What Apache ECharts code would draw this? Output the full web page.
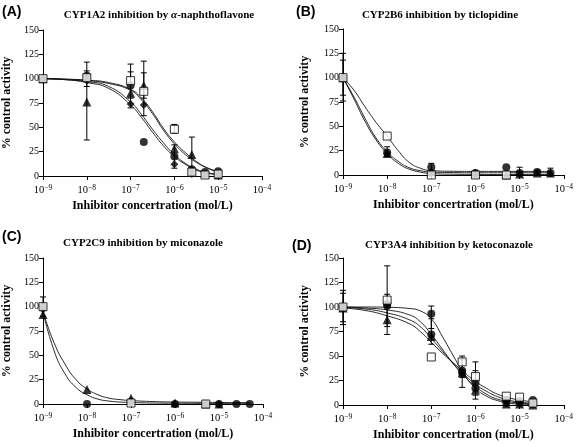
<!DOCTYPE html>
<html><head><meta charset="utf-8">
<script src="https://cdn.jsdelivr.net/npm/echarts@6/dist/echarts.min.js"></script>
<style>html,body{margin:0;padding:0;background:#fff}#c{width:576px;height:443px}</style>
</head><body><div id="c"></div><script>
// ---------- data ----------
const xTickExponents = [-9, -8, -7, -6, -5, -4];
const yTicks = [0, 25, 50, 75, 100, 125, 150];
const panelLetters = ['(A)', '(B)', '(C)', '(D)'];
const titleParts = [
  ['CYP1A2 inhibition by ', 'α', '-naphthoflavone'],
  ['CYP2B6 inhibition by ticlopidine', '', ''],
  ['CYP2C9 inhibition by miconazole', '', ''],
  ['CYP3A4 inhibition by ketoconazole', '', '']
];
const xAxisName = 'Inhibitor concertration (mol/L)';
const yAxisName = '% control activity';

// Panel A
const A_circle   = [[1e-9,100],[1e-8,103],[1e-7,93],[2e-7,35],[1e-6,20],[2.5e-6,7],[5e-6,4],[1e-5,5]];
const A_triangle = [[1e-9,100],[1e-8,76],[1e-7,85],[2e-7,93],[1e-6,28],[2.5e-6,22],[5e-6,2],[1e-5,1]];
const A_diamond  = [[1e-9,99],[1e-8,98],[1e-7,74],[2e-7,73],[1e-6,12],[2.5e-6,2],[5e-6,2],[1e-5,1]];
const A_square   = [[1e-9,100],[1e-8,101],[1e-7,98],[2e-7,87],[1e-6,48],[2.5e-6,4],[5e-6,1],[1e-5,2]];
const A_err = [[1e-8,37,117],[1e-8,92,108],[1e-7,70,115],[1e-7,80,107],[2e-7,62,118],[2e-7,80,106],[1e-6,8,32],[1e-6,44,53],[2.5e-6,0,40]];
const A_fitLogX = [-9,-8.5,-8,-7.5,-7,-6.75,-6.5,-6.25,-6,-5.75,-5.5,-5.25,-5];
const A_fit1 = [100,99,97,92,76,63,48,34,22,13,7,3.5,1.5];
const A_fit2 = [100,99,96,90,73,60,45,31,20,12,6,3,1];
const A_fit3 = [100,99.5,98.5,96,89,80,66,49,35,24,15,8.5,4.5];
const A_fit4 = [100,99.5,98,95,88,78,64,47,33,22,14,8,4];

// Panel B
const B_circle   = [[1e-9,100],[1e-8,23],[1e-7,8],[1e-6,2],[5e-6,8],[1e-5,2],[2.5e-5,3],[5e-5,2]];
const B_triangle = [[1e-9,100],[1e-8,22],[1e-7,3],[1e-6,1],[5e-6,0],[1e-5,1],[2.5e-5,2],[5e-5,2]];
const B_diamond  = [[1e-9,100],[1e-8,22],[1e-7,3],[1e-6,2]];
const B_square   = [[1e-9,100],[1e-8,40],[1e-7,0],[1e-6,0],[5e-6,0]];
const B_err = [[1e-9,76,125],[1e-9,82,118],[1e-8,19,29],[1e-7,3,12],[1e-5,0,8],[2.5e-5,1,5],[5e-5,0,7]];
const B_fitLogX = [-9,-8.75,-8.5,-8.25,-8,-7.75,-7.5,-7.25,-7,-6.5,-6,-5.5,-5,-4.6,-4.3];
const B_fit1 = [100,87,70,54,40,25,13,7,4.5,3.8,3.7,3.7,3.7,3.7,3.7];
const B_fit2 = [100,80,58,38,24,14,7.5,4.5,3,2.5,2.3,2.3,2.3,2.3,2.3];
const B_fit3 = [100,78,55,36,22,12,6,3,1.5,0.8,0.6,0.5,0.5,0.5,0.5];

// Panel C
const C_circle   = [[1e-9,100],[1e-8,0],[1e-7,2],[1e-6,0],[5e-6,0],[1e-5,0],[2.5e-5,0],[5e-5,0]];
const C_triangle = [[1e-9,92],[1e-8,15],[1e-7,6],[1e-6,1],[5e-6,0],[1e-5,0]];
const C_diamond  = [[1e-9,97],[1e-7,3],[1e-6,0],[5e-6,0]];
const C_square   = [[1e-9,100],[1e-7,1],[5e-6,0]];
const C_err = [[1e-9,90,110]];
const C_fitLogX = [-9,-8.75,-8.5,-8.25,-8,-7.75,-7.5,-7.25,-7,-6.5,-6,-5.5,-5,-4.6,-4.3];
const C_fit1 = [95,63,41,25,15.5,9.5,6,4.5,3.5,2.5,2,1.8,1.6,1.5,1.5];
const C_fit2 = [95,55,31,17,9.5,5,3,2,1.5,1,0.8,0.7,0.6,0.6,0.6];

// Panel D
const D_circle   = [[1e-9,100],[1e-8,103],[1e-7,93],[5e-7,35],[1e-6,23],[5e-6,5],[1e-5,4],[2e-5,5]];
const D_circle2  = [[1e-9,100],[1e-8,101],[1e-7,72],[5e-7,33],[1e-6,17],[5e-6,2],[1e-5,2],[2e-5,1]];
const D_triangle = [[1e-9,99],[1e-8,87],[1e-7,70],[5e-7,33],[1e-6,15],[5e-6,1],[1e-5,1],[2e-5,0]];
const D_square   = [[1e-9,100],[1e-8,107],[1e-7,49],[5e-7,44],[1e-6,29],[5e-6,9],[1e-5,8],[2e-5,2]];
const D_err = [[1e-9,82,117],[1e-9,85,114],[1e-8,72,142],[1e-8,80,113],[1e-7,62,101],[1e-7,78,88],[5e-7,18,50],[5e-7,28,47],[1e-6,6,44],[1e-6,10,35]];
const D_fitLogX = [-9,-8.5,-8,-7.5,-7.25,-7,-6.75,-6.5,-6.25,-6,-5.75,-5.5,-5.25,-5,-4.7];
const D_fit1 = [100,100,99.7,98.5,96,88,70,50,31,17,9,4.5,2,1,0.5];
const D_fit2 = [100,99,97,92,85,72,57,42,29,19,11,6,3.5,2,1];
const D_fit3 = [99.5,98,94,87,80,68,55,42,31,21,14,8.5,5,3,1.8];
const D_fit4 = [99,96.5,91,83,75,64,53,43,33,24,17,11,7.5,5,3.4];

// ---------- layout & styles ----------
const layout = [
  {grid:{left:42, top:30, width:220, height:146}, letter:[2,12], title:[159,15], yGap:30},
  {grid:{left:343, top:29, width:221, height:146}, letter:[296,12], title:[440,15], yGap:32},
  {grid:{left:43, top:258, width:220, height:146}, letter:[2,237], title:[143,243], yGap:30},
  {grid:{left:343, top:258, width:221, height:147}, letter:[292,246], title:[449,245], yGap:32}
];
const panels = [
  {markers:[['circle',A_circle],['triangle',A_triangle],['diamond',A_diamond],['square',A_square]], err:A_err, fitX:A_fitLogX, fits:[A_fit1,A_fit2,A_fit3,A_fit4]},
  {markers:[['circle',B_circle],['triangle',B_triangle],['diamond',B_diamond],['square',B_square]], err:B_err, fitX:B_fitLogX, fits:[B_fit1,B_fit2,B_fit3]},
  {markers:[['circle',C_circle],['triangle',C_triangle],['diamond',C_diamond],['square',C_square]], err:C_err, fitX:C_fitLogX, fits:[C_fit1,C_fit2]},
  {markers:[['circle',D_circle],['circle',D_circle2],['triangle',D_triangle],['square',D_square]], err:D_err, fitX:D_fitLogX, fits:[D_fit1,D_fit2,D_fit3,D_fit4]}
];
const SERIF = '"Liberation Serif","Times New Roman",serif';
const SANS = '"Liberation Sans",Arial,sans-serif';
const markerStyle = {
  circle:{symbol:'circle', symbolSize:8, itemStyle:{color:'#000'}},
  triangle:{symbol:'triangle', symbolSize:9, itemStyle:{color:'#000'}},
  diamond:{symbol:'diamond', symbolSize:8, itemStyle:{color:'#000'}},
  square:{symbol:'rect', symbolSize:8, itemStyle:{color:'#fff', borderColor:'#000', borderWidth:1}}
};

const grids = [], xAxes = [], yAxes = [], series = [], graphics = [];
panels.forEach((p, i) => {
  const L = layout[i];
  grids.push(L.grid);
  xAxes.push({
    type:'log', logBase:10, gridIndex:i,
    min:Math.pow(10, xTickExponents[0]), max:Math.pow(10, xTickExponents[xTickExponents.length-1]),
    splitNumber: xTickExponents.length - 1,
    name:xAxisName, nameLocation:'middle', nameGap:24,
    nameTextStyle:{fontFamily:SERIF, fontWeight:'bold', fontSize:12, color:'#000'},
    axisLine:{show:true, onZero:false, lineStyle:{color:'#000', width:1}},
    axisTick:{show:true, length:4, lineStyle:{color:'#000'}},
    minorTick:{show:false}, splitLine:{show:false}, minorSplitLine:{show:false},
    axisLabel:{
      margin:8, color:'#000',
      formatter:v => '{b|10}{s|−' + (-Math.round(Math.log10(v))) + '}',
      rich:{
        b:{fontFamily:SERIF, fontSize:10.5, color:'#000', lineHeight:12, verticalAlign:'middle'},
        s:{fontFamily:SERIF, fontSize:7.5, color:'#000', lineHeight:6, verticalAlign:'top'}
      }
    }
  });
  yAxes.push({
    type:'value', gridIndex:i, min:yTicks[0], max:yTicks[yTicks.length-1], interval:yTicks[1]-yTicks[0],
    name:yAxisName, nameLocation:'middle', nameGap:L.yGap,
    nameTextStyle:{fontFamily:SERIF, fontWeight:'bold', fontSize:12, color:'#000'},
    axisLine:{show:true, lineStyle:{color:'#000', width:1}},
    axisTick:{show:true, length:4, lineStyle:{color:'#000'}},
    splitLine:{show:false},
    axisLabel:{fontFamily:SERIF, fontSize:10, color:'#000', margin:4}
  });
  p.fits.forEach(f => {
    series.push({
      type:'line', xAxisIndex:i, yAxisIndex:i, smooth:true, showSymbol:false, symbol:'none',
      lineStyle:{color:'#111', width:0.9}, z:2, silent:true,
      data:p.fitX.map((lx, k) => [Math.pow(10, lx), f[k]])
    });
  });
  series.push({
    type:'custom', xAxisIndex:i, yAxisIndex:i, z:3, silent:true,
    data:p.err,
    encode:{x:0, y:[1,2]},
    renderItem:(params, api) => {
      const x = api.value(0);
      const lo = api.coord([x, api.value(1)]);
      const hi = api.coord([x, api.value(2)]);
      const w = 3;
      const st = {stroke:'#000', lineWidth:1};
      return {type:'group', children:[
        {type:'line', shape:{x1:lo[0], y1:lo[1], x2:hi[0], y2:hi[1]}, style:st},
        {type:'line', shape:{x1:hi[0]-w, y1:hi[1], x2:hi[0]+w, y2:hi[1]}, style:st},
        {type:'line', shape:{x1:lo[0]-w, y1:lo[1], x2:lo[0]+w, y2:lo[1]}, style:st}
      ]};
    }
  });
  p.markers.forEach(([kind, data]) => {
    series.push(Object.assign({type:'scatter', xAxisIndex:i, yAxisIndex:i, z:4, data:data}, markerStyle[kind]));
  });
  graphics.push({
    type:'text', x:L.letter[0], y:L.letter[1],
    style:{text:panelLetters[i], font:'bold 14px ' + SANS, fill:'#000', textAlign:'left', textVerticalAlign:'middle'}
  });
  const tp = titleParts[i];
  graphics.push({
    type:'text', x:L.title[0], y:L.title[1],
    style:{
      text:'{t|' + tp[0] + '}' + (tp[1] ? '{i|' + tp[1] + '}' : '') + (tp[2] ? '{t|' + tp[2] + '}' : ''),
      textAlign:'center', textVerticalAlign:'middle',
      rich:{
        t:{fontFamily:SERIF, fontWeight:'bold', fontSize:11, fill:'#000'},
        i:{fontFamily:SERIF, fontStyle:'italic', fontWeight:'bold', fontSize:11, fill:'#000'}
      }
    }
  });
});

const chart = echarts.init(document.getElementById('c'), null, {renderer:'canvas'});
chart.setOption({
  animation:false, backgroundColor:'#fff',
  grid:grids, xAxis:xAxes, yAxis:yAxes, series:series, graphic:graphics
});
</script></body></html>
